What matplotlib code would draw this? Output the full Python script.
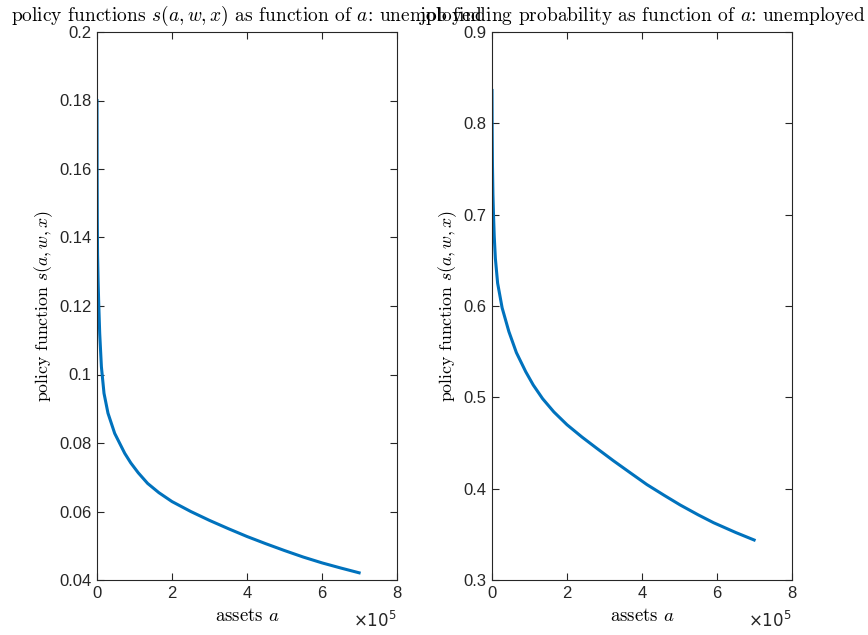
import matplotlib
matplotlib.use("Agg")
import matplotlib.pyplot as plt
import numpy as np
from matplotlib.ticker import FixedLocator, FuncFormatter

plt.rcParams["mathtext.fontset"] = "cm"

# assets grid (values in units of 1e5)
assets_left = np.array([0.0, 0.003, 0.008, 0.015, 0.03, 0.045, 0.072, 0.117, 0.187, 0.293, 0.472, 0.739,
                        0.9, 1.1, 1.35, 1.65, 2.0, 2.5, 3.0, 3.5, 4.0, 4.5, 5.0, 5.5, 6.0, 6.5, 6.99])
policy_s = np.array([0.180, 0.160, 0.145, 0.135, 0.127, 0.121, 0.112, 0.1023, 0.0945, 0.0887, 0.0828, 0.0770,
                     0.0742, 0.0713, 0.0682, 0.0655, 0.0629, 0.0600, 0.0574, 0.0550, 0.0527, 0.0506, 0.0486,
                     0.0467, 0.0450, 0.0435, 0.0421])

assets_right = np.array([0.0, 0.005, 0.012, 0.025, 0.04, 0.06, 0.09, 0.15, 0.27, 0.45, 0.65, 0.9, 1.1, 1.35,
                         1.65, 2.0, 2.4, 2.8, 3.24, 3.7, 4.13, 4.6, 5.02, 5.5, 5.91, 6.5, 6.99])
job_prob = np.array([0.836, 0.790, 0.755, 0.722, 0.700, 0.676, 0.652, 0.625, 0.598, 0.572, 0.549, 0.528, 0.5135,
                     0.4985, 0.4840, 0.4700, 0.4565, 0.4440, 0.4305, 0.4170, 0.4045, 0.3925, 0.3821, 0.3713,
                     0.3627, 0.3520, 0.3438])

titles = [r"policy functions $s(a,w,x)$ as function of $a$: unemployed",
          r"job finding probability as function of $a$: unemployed"]
ylabels = [r"policy function $s(a,w,x)$", r"policy function $s(a,w,x)$"]
yticks_left = [0.04, 0.06, 0.08, 0.1, 0.12, 0.14, 0.16, 0.18, 0.2]
yticks_right = [0.3, 0.4, 0.5, 0.6, 0.7, 0.8, 0.9]
xticks = [0, 2e5, 4e5, 6e5, 8e5]

line_color = "#0072BD"
axis_color = "#262626"
serif = "cmr10"
sans = "Liberation Sans"

fig = plt.figure(figsize=(8.68, 6.35), dpi=100)
ax1 = fig.add_axes([97 / 868, 55 / 635, 300 / 868, 548 / 635])
ax2 = fig.add_axes([492 / 868, 55 / 635, 300 / 868, 548 / 635])

panels = [(ax1, assets_left, policy_s, yticks_left, (0.04, 0.2)),
          (ax2, assets_right, job_prob, yticks_right, (0.3, 0.9))]

for i, (ax, xs, ys, yt, ylim) in enumerate(panels):
    ax.plot(xs * 1e5, ys, color=line_color, linewidth=2.2, solid_joinstyle="round")
    ax.set_xlim(0, 8e5)
    ax.set_ylim(*ylim)
    ax.xaxis.set_major_locator(FixedLocator(xticks))
    ax.xaxis.set_major_formatter(FuncFormatter(lambda v, p: f"{v / 1e5:g}"))
    ax.yaxis.set_major_locator(FixedLocator(yt))
    ax.yaxis.set_major_formatter(FuncFormatter(lambda v, p: f"{v:g}"))
    ax.tick_params(direction="in", length=5, width=0.8, top=True, right=True,
                   colors=axis_color, labelsize=12, pad=4)
    for lab in ax.get_xticklabels() + ax.get_yticklabels():
        lab.set_fontfamily(sans)
    for sp in ax.spines.values():
        sp.set_color(axis_color)
        sp.set_linewidth(0.8)
    ax.set_title(titles[i], fontsize=14, family=serif, pad=8)
    ax.set_xlabel(r"assets $a$", fontsize=13.5, family=serif, labelpad=5)
    ax.set_ylabel(ylabels[i], fontsize=12.8, family=serif, labelpad=3)
    ax.text(1.0, -0.055, r"$\times10^5$", transform=ax.transAxes, ha="right", va="top",
            fontsize=12, family=sans, color=axis_color, math_fontfamily="dejavusans")

fig.savefig("out.png", dpi=100)
plt.close(fig)
